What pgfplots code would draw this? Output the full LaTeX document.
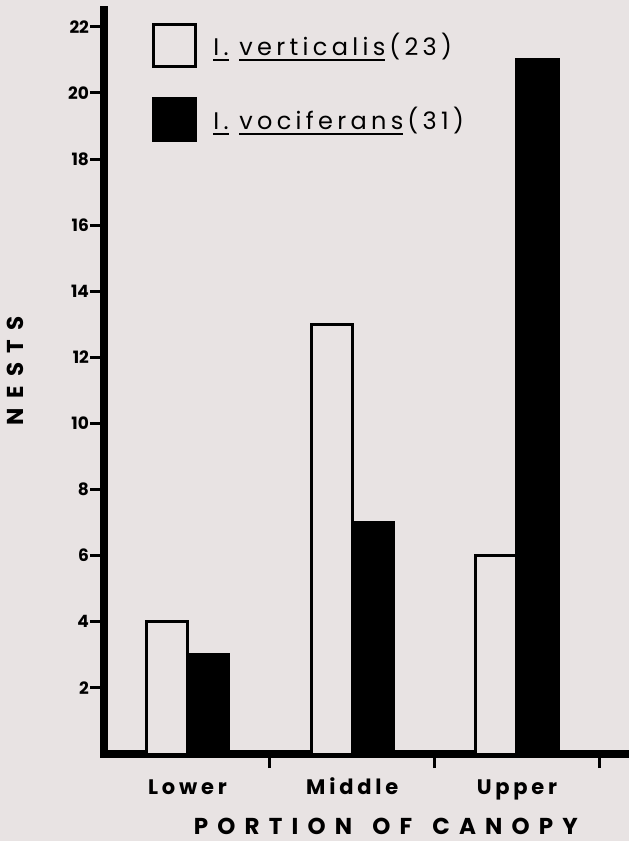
\documentclass[border=0pt]{standalone}
\usepackage{fontspec}
\setmainfont{Poppins}
\newfontfamily\legfont[LetterSpace=18]{Poppins}
\newfontfamily\tickfont[LetterSpace=18]{Poppins}
\newfontfamily\labfont[LetterSpace=40]{Poppins}
\newsavebox\ulbox
\newcommand\ul[1]{\sbox\ulbox{#1}\rlap{\rule[-3pt]{\wd\ulbox}{1.2pt}}\usebox\ulbox}
\usepackage{pgfplots}
\pgfplotsset{compat=1.18}
\definecolor{bgcol}{RGB}{232,227,227}
\pgfdeclarelayer{background}
\pgfsetlayers{background,main}

\begin{document}
\begin{tikzpicture}
\begin{axis}[
    scale only axis,
    width=262.5pt, height=372pt,
    xmin=-0.507, xmax=2.68,
    ymin=0, ymax=22.51,
    axis x line=bottom, axis y line=left,
    axis line style={-, line width=4pt, line cap=rect},
    tick align=outside,
    major tick length=7pt,
    tick style={black, line width=1.5pt},
    xtick={0.5,1.5,2.5}, xticklabels={},
    extra x ticks={0,1,2},
    extra x tick labels={Lower,Middle,Upper},
    extra x tick style={major tick length=0pt,
        tick label style={font=\tickfont\bfseries\fontsize{10.5}{12}\selectfont, anchor=base, yshift=-20pt}},
    ytick={2,4,...,22},
    yticklabel style={font=\bfseries\fontsize{8.5}{10}\selectfont, xshift=3pt},
    /pgf/number format/assume math mode=true,
    xlabel={PORTION\hspace{3pt} OF\hspace{3pt} CANOPY},
    xlabel style={at={(rel axis cs:0.537,0)}, anchor=center, yshift=-36pt,
        font=\labfont\bfseries\fontsize{11.5}{13}\selectfont},
    ylabel={NESTS},
    ylabel style={at={(rel axis cs:-0.168,0.515)}, anchor=center,
        font=\labfont\bfseries\fontsize{11.5}{13}\selectfont},
    legend image code/.code={\draw[#1, line width=1.5pt] (0pt,-10.5pt) rectangle (21pt,10.5pt);},
    legend style={at={(rel axis cs:0.0914,0.983)}, anchor=north west,
        draw=none, fill=none, inner sep=0pt, row sep=14.5pt,
        font=\legfont\fontsize{12}{14}\selectfont},
    legend cell align=left,
]
\addplot[ybar, bar width=0.25, bar shift=-0.125, fill=bgcol, draw=black, line width=1.5pt]
    coordinates {(0,4) (1,13) (2,6)};
\addlegendentry{\hspace*{6pt}\ul{I.}\ \ul{verticalis}\,(23)}
\addplot[ybar, bar width=0.25, bar shift=0.125, fill=black, draw=black, line width=1.5pt]
    coordinates {(0,3) (1,7) (2,21)};
\addlegendentry{\hspace*{6pt}\ul{I.}\ \ul{vociferans}\,(31)}
\coordinate (bl) at (rel axis cs:0,0);
\coordinate (tr) at (rel axis cs:1,1);
\end{axis}
\pgfresetboundingbox
\path ([shift={(-52pt,-43.5pt)}]bl) rectangle ([yshift=5pt]tr);
\begin{pgfonlayer}{background}
\fill[bgcol] ([shift={(-52pt,-43.5pt)}]bl) rectangle ([yshift=5pt]tr);
\end{pgfonlayer}
\end{tikzpicture}
\end{document}
